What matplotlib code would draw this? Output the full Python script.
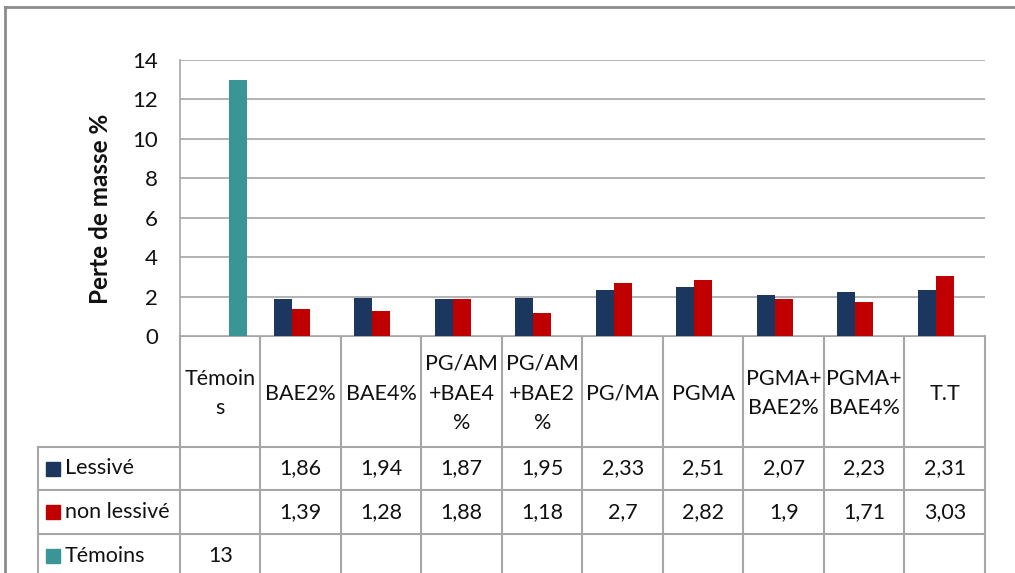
import matplotlib
matplotlib.use("Agg")
import matplotlib.pyplot as plt
import numpy as np

plt.rcParams['font.family'] = ['Lato', 'DejaVu Sans']

categories = ["Témoin\ns", "BAE2%", "BAE4%", "PG/AM\n+BAE4\n%", "PG/AM\n+BAE2\n%",
              "PG/MA", "PGMA", "PGMA+\nBAE2%", "PGMA+\nBAE4%", "T.T"]
series_names = ["Lessivé", "non lessivé", "Témoins"]
lessive = [np.nan, 1.86, 1.94, 1.87, 1.95, 2.33, 2.51, 2.07, 2.23, 2.31]
non_lessive = [np.nan, 1.39, 1.28, 1.88, 1.18, 2.7, 2.82, 1.9, 1.71, 3.03]
temoins = [13, np.nan, np.nan, np.nan, np.nan, np.nan, np.nan, np.nan, np.nan, np.nan]
lessive_txt = ["", "1,86", "1,94", "1,87", "1,95", "2,33", "2,51", "2,07", "2,23", "2,31"]
non_lessive_txt = ["", "1,39", "1,28", "1,88", "1,18", "2,7", "2,82", "1,9", "1,71", "3,03"]
temoins_txt = ["13", "", "", "", "", "", "", "", "", ""]
yticks = [0, 2, 4, 6, 8, 10, 12, 14]

colors = ["#1b375f", "#c00000", "#3a9696"]
grid_c = "#a6a6a6"

W, H = 1015, 573
fig = plt.figure(figsize=(W / 100, H / 100), dpi=100)

# overlay for frame and table (pixel coordinates)
tab = fig.add_axes([0, 0, 1, 1])
tab.set_xlim(0, W)
tab.set_ylim(H, 0)
tab.axis("off")

x0, x1 = 180, 985
y_top, y_bot = 60, 336
ax = fig.add_axes([x0 / W, (H - y_bot) / H, (x1 - x0) / W, (y_bot - y_top) / H])

n = len(categories)
x = np.arange(n)
bw = 18 / ((x1 - x0) / n)
for k, (vals, c) in enumerate(zip([lessive, non_lessive, temoins], colors)):
    ax.bar(x + (k - 1) * bw, vals, width=bw, color=c, zorder=3)

ax.set_xlim(-0.5, n - 0.5)
ax.set_ylim(0, 14)
ax.set_yticks(yticks)
ax.set_yticklabels([str(t) for t in yticks], fontsize=16, color="#111111")
ax.tick_params(axis="y", length=0, pad=16)
ax.set_xticks([])
ax.yaxis.grid(True, color=grid_c, linewidth=1.2, zorder=0)
for s in ["top", "right", "bottom"]:
    ax.spines[s].set_visible(False)
ax.spines["left"].set_color(grid_c)
ax.spines["left"].set_linewidth(1.2)
ax.set_ylabel("Perte de masse %", fontsize=17.5, fontweight="bold", color="#111111",
              va="center")
ax.yaxis.set_label_coords((101 - x0) / (x1 - x0), (y_bot - 209) / (y_bot - y_top))

# outer frame
tab.plot([5, W], [7, 7], color="#8c8c8c", lw=2)
tab.plot([5, 5], [7, H], color="#8c8c8c", lw=2)

# table
cw = (x1 - x0) / n
col_edges = [x0 + i * cw for i in range(n + 1)]
row_edges = [336, 447, 490, 534, 578]
left = 38
lc = "#a6a6a6"
lw = 1.5
tab.plot([x0, x1], [row_edges[0], row_edges[0]], color=lc, lw=lw)
for r in row_edges[1:]:
    tab.plot([left, x1], [r, r], color=lc, lw=lw)
for cx in col_edges:
    tab.plot([cx, cx], [row_edges[0], H], color=lc, lw=lw)
tab.plot([left, left], [row_edges[1], H], color=lc, lw=lw)

tc = "#111111"
fs = 15.5
for i, cat in enumerate(categories):
    cx = (col_edges[i] + col_edges[i + 1]) / 2
    tab.text(cx, (row_edges[0] + row_edges[1]) / 2 + 2, cat, ha="center", va="center",
             fontsize=fs, color=tc, linespacing=1.62)

rows_txt = [lessive_txt, non_lessive_txt, temoins_txt]
for r, (name, txts, c) in enumerate(zip(series_names, rows_txt, colors)):
    yc = (row_edges[r + 1] + row_edges[r + 2]) / 2
    tab.add_patch(plt.Rectangle((46, yc - 7), 14, 14, color=c))
    tab.text(65, yc, name, ha="left", va="center", fontsize=fs, color=tc)
    for i, t in enumerate(txts):
        cx = (col_edges[i] + col_edges[i + 1]) / 2
        tab.text(cx, yc, t, ha="center", va="center", fontsize=fs, color=tc)

fig.savefig("out.png", dpi=100)
